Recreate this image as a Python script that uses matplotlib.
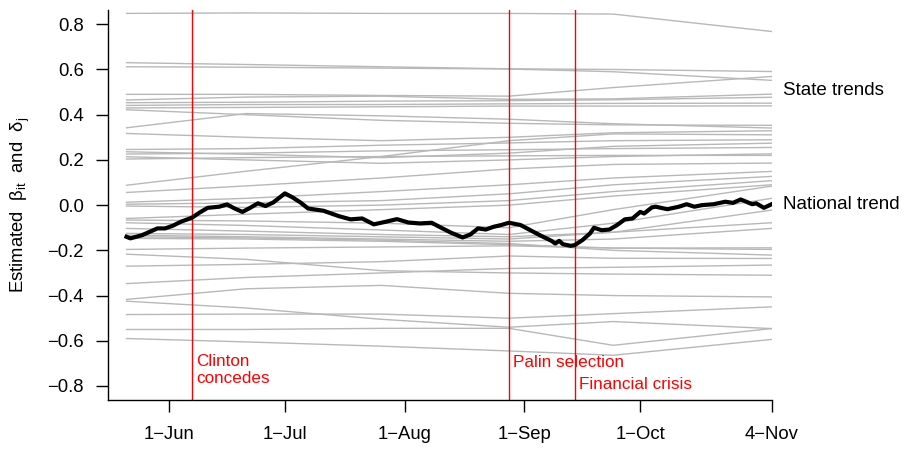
import matplotlib
matplotlib.use("Agg")
import matplotlib.pyplot as plt

plt.rcParams['font.family'] = ['Liberation Sans', 'DejaVu Sans']
plt.rcParams['mathtext.fontset'] = 'custom'
plt.rcParams['mathtext.rm'] = 'Liberation Sans'

# days counted from 1 June 2008
tick_days = [0, 30, 61, 92, 122, 156]
tick_labels = ['1\u2212Jun', '1\u2212Jul', '1\u2212Aug', '1\u2212Sep', '1\u2212Oct', '4\u2212Nov']
y_ticks = [-0.8, -0.6, -0.4, -0.2, 0.0, 0.2, 0.4, 0.6, 0.8]

# state trend estimates at a handful of dates
state_days = [-11, 20, 55, 88, 115, 156]
state_trends = [
    [0.848, 0.850, 0.848, 0.848, 0.845, 0.768],
    [0.630, 0.622, 0.612, 0.603, 0.600, 0.591],
    [0.612, 0.610, 0.606, 0.602, 0.590, 0.552],
    [0.490, 0.490, 0.485, 0.482, 0.520, 0.569],
    [0.465, 0.478, 0.482, 0.468, 0.470, 0.491],
    [0.453, 0.455, 0.460, 0.462, 0.466, 0.477],
    [0.441, 0.445, 0.445, 0.448, 0.450, 0.451],
    [0.430, 0.432, 0.435, 0.438, 0.438, 0.439],
    [0.422, 0.400, 0.375, 0.362, 0.355, 0.353],
    [0.342, 0.405, 0.395, 0.380, 0.360, 0.341],
    [0.317, 0.300, 0.285, 0.300, 0.320, 0.329],
    [0.088, 0.150, 0.215, 0.285, 0.315, 0.311],
    [0.246, 0.250, 0.265, 0.275, 0.285, 0.289],
    [0.236, 0.225, 0.210, 0.230, 0.260, 0.274],
    [0.226, 0.230, 0.240, 0.245, 0.250, 0.255],
    [0.214, 0.200, 0.185, 0.200, 0.215, 0.227],
    [0.204, 0.210, 0.215, 0.218, 0.220, 0.220],
    [0.056, 0.085, 0.120, 0.160, 0.180, 0.186],
    [0.013, 0.030, 0.060, 0.090, 0.120, 0.149],
    [0.004, 0.010, 0.020, 0.050, 0.090, 0.127],
    [-0.004, -0.010, 0.000, 0.020, 0.060, 0.108],
    [-0.059, -0.040, -0.020, 0.000, 0.040, 0.090],
    [-0.066, -0.070, -0.080, -0.100, -0.020, 0.084],
    [-0.078, -0.090, -0.110, -0.130, -0.080, 0.030],
    [-0.103, -0.115, -0.130, -0.140, -0.120, -0.022],
    [-0.125, -0.130, -0.140, -0.150, -0.120, -0.078],
    [-0.133, -0.140, -0.150, -0.160, -0.150, -0.103],
    [-0.147, -0.150, -0.160, -0.175, -0.190, -0.196],
    [-0.140, -0.145, -0.155, -0.170, -0.200, -0.221],
    [-0.196, -0.190, -0.185, -0.180, -0.190, -0.189],
    [-0.217, -0.240, -0.290, -0.300, -0.305, -0.310],
    [-0.270, -0.262, -0.250, -0.225, -0.235, -0.236],
    [-0.347, -0.320, -0.300, -0.280, -0.275, -0.265],
    [-0.417, -0.370, -0.355, -0.390, -0.400, -0.406],
    [-0.425, -0.455, -0.505, -0.540, -0.515, -0.546],
    [-0.484, -0.482, -0.482, -0.500, -0.480, -0.450],
    [-0.550, -0.550, -0.545, -0.545, -0.620, -0.546],
    [-0.590, -0.605, -0.624, -0.645, -0.664, -0.594],
]

national_days = [-11, -10, -7, -5, -3, -1, 1, 3, 6, 8, 10, 13, 15, 17, 19, 21, 23, 25,
                 27, 30, 32, 34, 36, 40, 44, 47, 50, 53, 56, 59, 62, 65, 68, 70, 73,
                 76, 78, 80, 82, 84, 86, 88, 91, 93, 96, 99, 100, 101, 102, 104, 105,
                 107, 109, 110, 112, 114, 116, 118, 120, 122, 123, 125, 126, 129, 132,
                 134, 136, 138, 141, 144, 146, 148, 151, 152, 154, 156]
national_trend = [-0.140, -0.147, -0.133, -0.118, -0.103, -0.103, -0.091, -0.074, -0.055,
                  -0.032, -0.012, -0.007, 0.003, -0.015, -0.030, -0.012, 0.008, -0.004,
                  0.012, 0.052, 0.034, 0.012, -0.015, -0.025, -0.049, -0.063, -0.059,
                  -0.085, -0.074, -0.062, -0.077, -0.081, -0.078, -0.096, -0.122, -0.143,
                  -0.130, -0.103, -0.108, -0.096, -0.088, -0.078, -0.088, -0.106, -0.133,
                  -0.158, -0.170, -0.158, -0.173, -0.180, -0.177, -0.155, -0.125, -0.100,
                  -0.111, -0.108, -0.088, -0.063, -0.059, -0.030, -0.037, -0.010, -0.007,
                  -0.018, -0.007, 0.004, -0.007, 0.000, 0.004, 0.015, 0.010, 0.025, 0.004,
                  0.008, -0.012, 0.004]

event_days = [6, 88, 105]
event_labels = ['Clinton\nconcedes', 'Palin selection', 'Financial crisis']
event_label_y = [-0.728, -0.695, -0.792]

fig = plt.figure(figsize=(9.06, 4.49), dpi=100)
ax = fig.add_axes([0.1192, 0.1091, 0.7329, 0.8686])

for vals in state_trends:
    ax.plot(state_days, vals, color='#B8B8B8', lw=1.0, zorder=1)

ax.plot(national_days, national_trend, color='black', lw=3.0, zorder=3,
        solid_joinstyle='round')

for d, lab, ly in zip(event_days, event_labels, event_label_y):
    ax.axvline(d, color='red', lw=1.0, zorder=2)
    ax.annotate(lab, xy=(d, ly), xytext=(3, 0), textcoords='offset points',
                color='red', fontsize=12.3, ha='left', va='center',
                linespacing=1.2)

ax.annotate('State trends', xy=(156, 0.505), xytext=(8, 0), textcoords='offset points',
            fontsize=13.5, ha='left', va='center', annotation_clip=False)
ax.annotate('National trend', xy=(156, national_trend[-1]), xytext=(8, 0),
            textcoords='offset points', fontsize=13.5, ha='left', va='center',
            annotation_clip=False)

ax.set_xlim(-15.8, 156.1)
ax.set_ylim(-0.862, 0.863)
ax.set_xticks(tick_days)
ax.set_xticklabels(tick_labels)
ax.set_yticks(y_ticks)
ax.set_yticklabels([f'{v:.1f}'.replace('-', '\u2212') for v in y_ticks])
ax.tick_params(axis='both', length=8.5, width=1.0, labelsize=13.3)
ax.tick_params(axis='x', pad=10)
ax.tick_params(axis='y', pad=9)

for side in ['top', 'right']:
    ax.spines[side].set_visible(False)
for side in ['left', 'bottom']:
    ax.spines[side].set_linewidth(1.0)

ax.set_ylabel('Estimated  \u03b2$_{\\mathrm{it}}$  and  \u03b4$_{\\mathrm{j}}$', fontsize=13.3)
ax.yaxis.set_label_coords(-0.1145, 0.5)

fig.savefig('out.png', dpi=100)
